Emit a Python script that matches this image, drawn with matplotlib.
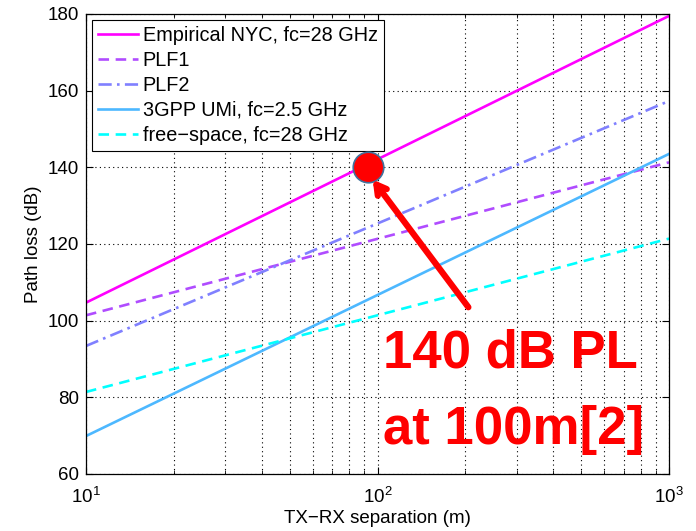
import matplotlib
matplotlib.use("Agg")
import matplotlib.pyplot as plt
from matplotlib.ticker import LogLocator, NullFormatter

# TX-RX distance (m) and path loss (dB) at the ends of each model line
distance = [10, 1000]
pl_empirical_nyc = [104.7, 179.5]
pl_plf1 = [101.4, 141.3]
pl_plf2 = [93.4, 157.3]
pl_3gpp_umi = [69.9, 143.5]
pl_free_space = [81.4, 121.4]

labels = ["Empirical NYC, fc=28 GHz", "PLF1", "PLF2",
          "3GPP UMi, fc=2.5 GHz", "free\u2212space, fc=28 GHz"]

# highlighted operating point
point_distance = 93
point_pl = 140

W, H = 696, 531
plt.rcParams["font.family"] = ["Liberation Sans", "DejaVu Sans"]

fig = plt.figure(figsize=(W / 100, H / 100), dpi=100)
ax = fig.add_axes([86 / W, 57 / H, 583 / W, 460 / H])

ax.plot(distance, pl_empirical_nyc, color="#ff00ff", lw=1.9, ls="-", label=labels[0])
ax.plot(distance, pl_plf1, color="#b04cff", lw=1.9, ls=(0, (4, 2.5)), label=labels[1])
ax.plot(distance, pl_plf2, color="#8080ff", lw=1.9, ls=(0, (5, 2, 1, 2)), label=labels[2])
ax.plot(distance, pl_3gpp_umi, color="#4db8ff", lw=1.9, ls="-", label=labels[3])
ax.plot(distance, pl_free_space, color="#00ffff", lw=1.9, ls=(0, (4, 2.5)), label=labels[4])

ax.set_xscale("log")
ax.set_xlim(10, 1000)
ax.set_ylim(60, 180)
ax.set_yticks(range(60, 181, 20))
ax.xaxis.set_major_locator(LogLocator(base=10))
ax.xaxis.set_minor_locator(LogLocator(base=10, subs=range(2, 10)))
ax.xaxis.set_minor_formatter(NullFormatter())

ax.grid(True, which="major", axis="both", color="black", ls=(0, (1, 3)), lw=0.8)
ax.grid(True, which="minor", axis="x", color="black", ls=(0, (1, 3)), lw=0.8)
ax.tick_params(which="both", direction="in", top=True, right=True, labelsize=13.5)
ax.tick_params(axis="y", pad=5)
ax.tick_params(axis="x", pad=9)
ax.tick_params(which="major", length=5)
ax.tick_params(which="minor", length=3)
for s in ax.spines.values():
    s.set_linewidth(0.9)

ax.set_xlabel("TX\u2212RX separation (m)", fontsize=13.5, labelpad=2.5)
ax.set_ylabel("Path loss (dB)", fontsize=13.5, labelpad=4)

leg = ax.legend(loc="upper left", fontsize=14.3, handlelength=2.0, handletextpad=0.25,
                labelspacing=0.3, borderpad=0.3, borderaxespad=0.3,
                fancybox=False, framealpha=1, edgecolor="black")
leg.get_frame().set_linewidth(0.8)

ax.plot([point_distance], [point_pl], marker="o", ms=22, color="#ff0000",
        markeredgecolor="#41719c", markeredgewidth=1.2, zorder=6, clip_on=False)

ax.annotate("", xy=(point_distance * 1.035, point_pl - 3.2), xytext=(205, 103.5),
            arrowprops=dict(arrowstyle="->,head_length=0.7,head_width=0.4",
                            color="#ff0000", lw=4.5, shrinkA=0, shrinkB=0), zorder=7)

callout = dict(color="#ff0000", fontsize=38, fontweight="bold",
               family=["Liberation Sans", "DejaVu Sans"], ha="left", va="baseline", zorder=8)
fig.text(383 / W, 1 - 368 / H, "140 dB PL", **callout)
fig.text(383 / W, 1 - 444 / H, "at 100m[2]", **callout)

fig.savefig("out.png", dpi=100, facecolor="white")
